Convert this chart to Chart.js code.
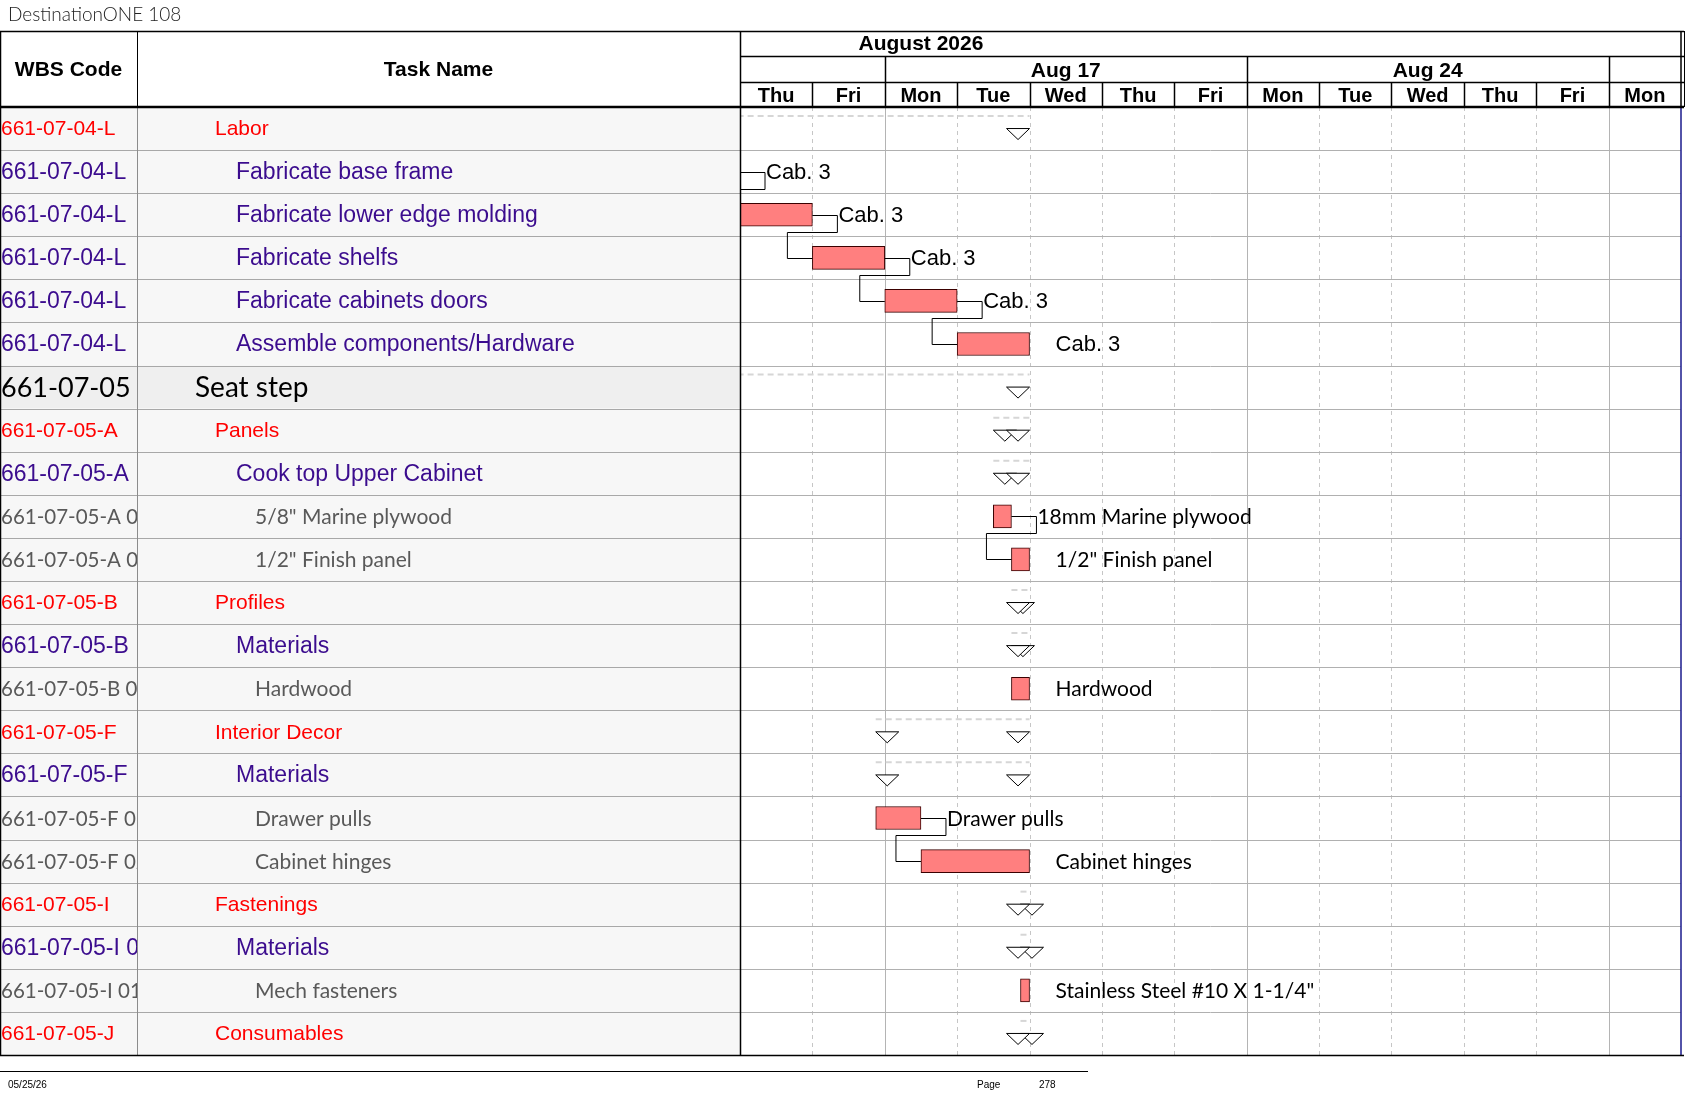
<!DOCTYPE html>
<html>
<head>
<meta charset="utf-8">
<title>DestinationONE 108</title>
<script src="https://cdn.jsdelivr.net/npm/chart.js@4.4.1/dist/chart.umd.min.js"></script>
<style>
  html, body { margin: 0; padding: 0; background: #fff; }
  canvas { display: block; }
</style>
</head>
<body>
<canvas id="gantt" width="1687" height="1097"></canvas>
<script>
// GANTT PAGE 278

const PROJECT_TITLE = "DestinationONE 108";
const PRINT_DATE = "05/25/26";
const PAGE_NO = "278";

const MONTH_LABEL = "August 2026";
// working days shown, starting Thu Aug 13
const DAY_LABELS = ["Thu", "Fri", "Mon", "Tue", "Wed", "Thu", "Fri", "Mon", "Tue", "Wed", "Thu", "Fri", "Mon"];
const WEEK_LABELS = ["", "Aug 17", "Aug 24", ""];

const WBS_CODES = [
  "661-07-04-L", "661-07-04-L", "661-07-04-L", "661-07-04-L", "661-07-04-L", "661-07-04-L",
  "661-07-05",
  "661-07-05-A", "661-07-05-A", "661-07-05-A 01", "661-07-05-A 02",
  "661-07-05-B", "661-07-05-B", "661-07-05-B 01",
  "661-07-05-F", "661-07-05-F", "661-07-05-F 01", "661-07-05-F 02",
  "661-07-05-I", "661-07-05-I 01", "661-07-05-I 01 01",
  "661-07-05-J"
];
const TASK_NAMES = [
  "Labor", "Fabricate base frame", "Fabricate lower edge molding", "Fabricate shelfs",
  "Fabricate cabinets doors", "Assemble components/Hardware",
  "Seat step",
  "Panels", "Cook top Upper Cabinet", "5/8\" Marine plywood", "1/2\" Finish panel",
  "Profiles", "Materials", "Hardwood",
  "Interior Decor", "Materials", "Drawer pulls", "Cabinet hinges",
  "Fastenings", "Materials", "Mech fasteners",
  "Consumables"
];
const OUTLINE_LEVELS = [2, 3, 3, 3, 3, 3, 1, 2, 3, 4, 4, 2, 3, 4, 2, 3, 4, 4, 2, 3, 4, 2];

// task bars, in working days from Thu Aug 13 (null = no bar)
const BAR_START = [null, -1, 0, 1, 2, 3, null, null, null, 3.5, 3.75, null, null, 3.75, null, null, 1.875, 2.5, null, null, 3.875, null];
const BAR_END   = [null, 0, 1, 2, 3, 4, null, null, null, 3.75, 4, null, null, 4, null, null, 2.5, 4, null, null, 4, null];
const BAR_LABELS = [
  "", "Cab. 3", "Cab. 3", "Cab. 3", "Cab. 3", "Cab. 3", "", "", "",
  "18mm Marine plywood", "1/2\" Finish panel", "", "", "Hardwood", "", "",
  "Drawer pulls", "Cabinet hinges", "", "", "Stainless Steel #10 X 1-1/4\"", ""
];

// summary rows (rolled-up span)
const SUMMARY_START = [-1, null, null, null, null, null, -1, 3.5, 3.5, null, null, 3.75, 3.75, null, 1.875, 1.875, null, null, 3.875, 3.875, null, 3.875];
const SUMMARY_END   = [4, null, null, null, null, null, 4, 4, 4, null, null, 4, 4, null, 4, 4, null, null, 4, 4, null, 4];

// finish-to-start links (row indexes)
const LINK_FROM = [1, 2, 3, 4, 9, 16];
const LINK_TO   = [2, 3, 4, 5, 10, 17];

const ARIAL = "'Liberation Sans', Arial, sans-serif";
const CALIBRI = "Lato, 'Open Sans', sans-serif";

const LEVEL_STYLE = {
  1: { font: "28px " + CALIBRI, wbsFont: "27px " + CALIBRI, color: "#000000", indent: 195, bg: "#efefef" },
  2: { font: "21px " + ARIAL, wbsFont: "21px " + ARIAL, color: "#ff0000", indent: 215, bg: "#f7f7f7" },
  3: { font: "23px " + ARIAL, wbsFont: "23px " + ARIAL, color: "#3b0c8e", indent: 236, bg: "#f7f7f7" },
  4: { font: "21px " + CALIBRI, wbsFont: "20.5px " + CALIBRI, color: "#595959", indent: 255, bg: "#f7f7f7" },
};

const WBS_RIGHT = 137;
const TASK_RIGHT = 740;
const HEAD_TOP = 31;
const MONTH_BOTTOM = 56;
const WEEK_BOTTOM = 82;
const HEAD_BOTTOM = 107;
const PAGE_RIGHT = 1684;

function line(ctx, x0, y0, x1, y1, color, width, dash) {
  ctx.save();
  ctx.beginPath();
  ctx.strokeStyle = color;
  ctx.lineWidth = width || 1;
  ctx.setLineDash(dash || []);
  ctx.moveTo(x0, y0);
  ctx.lineTo(x1, y1);
  ctx.stroke();
  ctx.restore();
}

function text(ctx, str, x, y, font, color, align) {
  ctx.font = font;
  ctx.fillStyle = color;
  ctx.textAlign = align || "left";
  ctx.textBaseline = "middle";
  ctx.fillText(str, x, y);
}

function downTriangle(ctx, left, top) {
  ctx.beginPath();
  ctx.moveTo(left, top);
  ctx.lineTo(left + 23, top);
  ctx.lineTo(left + 11.5, top + 11);
  ctx.closePath();
  ctx.fillStyle = "#fff";
  ctx.fill();
  ctx.strokeStyle = "#000";
  ctx.lineWidth = 1;
  ctx.stroke();
}

function rowBand(chart, i) {
  const y = chart.scales.y;
  const half = (y.getPixelForValue(1) - y.getPixelForValue(0)) / 2;
  const c = y.getPixelForValue(i);
  return { top: c - half, bottom: c + half, mid: c };
}

const ganttPlugin = {
  id: "ganttTable",
  beforeDatasetsDraw(chart) {
    const { ctx, chartArea: a, scales: { x } } = chart;
    ctx.save();
    // left table cells
    TASK_NAMES.forEach((_, i) => {
      const b = rowBand(chart, i);
      ctx.fillStyle = LEVEL_STYLE[OUTLINE_LEVELS[i]].bg;
      ctx.fillRect(0, b.top, TASK_RIGHT, b.bottom - b.top);
    });
    // vertical grid: solid at week starts, dashed between days
    for (let d = 1; d < DAY_LABELS.length; d++) {
      const px = Math.round(x.getPixelForValue(d)) + 0.5;
      if (DAY_LABELS[d] === "Mon") line(ctx, px, a.top, px, a.bottom, "#b4b4b4", 1);
      else line(ctx, px, a.top, px, a.bottom, "#c6c6c6", 1, [4, 4]);
    }
    // row lines
    for (let i = 1; i < TASK_NAMES.length; i++) {
      const yy = Math.round(rowBand(chart, i).top) + 0.5;
      line(ctx, 0, yy, TASK_RIGHT, yy, "#a8a8a8", 1);
      line(ctx, TASK_RIGHT, yy, a.right, yy, "#b0b0b0", 1);
    }
    ctx.restore();
  },
  afterDatasetsDraw(chart) {
    const { ctx, chartArea: a, scales: { x, y } } = chart;

    // gantt overlays, clipped to chart area
    ctx.save();
    ctx.beginPath();
    ctx.rect(a.left, a.top, a.right - a.left, a.bottom - a.top);
    ctx.clip();

    // summary roll-ups
    SUMMARY_START.forEach((s, i) => {
      if (s === null) return;
      const b = rowBand(chart, i);
      const x0 = x.getPixelForValue(s);
      const x1 = x.getPixelForValue(SUMMARY_END[i]);
      line(ctx, x0, b.top + 9, x1, b.top + 9, "#d6d6d6", 2, [6, 4]);
      downTriangle(ctx, x0, b.mid);
      downTriangle(ctx, x1 - 23, b.mid);
    });

    // links
    LINK_FROM.forEach((from, k) => {
      const to = LINK_TO[k];
      const e = x.getPixelForValue(BAR_END[from]);
      const s = x.getPixelForValue(BAR_START[to]);
      const yf = Math.round(y.getPixelForValue(from)) + 0.5;
      const yt = Math.round(y.getPixelForValue(to)) + 0.5;
      ctx.beginPath();
      ctx.strokeStyle = "#000";
      ctx.lineWidth = 1;
      ctx.moveTo(e, yf);
      ctx.lineTo(e + 25, yf);
      ctx.lineTo(e + 25, yf + 17);
      ctx.lineTo(s - 25, yf + 17);
      ctx.lineTo(s - 25, yt);
      ctx.lineTo(s, yt);
      ctx.stroke();
    });

    // bar labels
    BAR_LABELS.forEach((lbl, i) => {
      if (!lbl) return;
      const font = OUTLINE_LEVELS[i] === 4 ? "21px " + CALIBRI : "22px " + ARIAL;
      text(ctx, lbl, x.getPixelForValue(BAR_END[i]) + 26, y.getPixelForValue(i) + 1, font, "#000");
    });
    ctx.restore();

    // left table text
    TASK_NAMES.forEach((name, i) => {
      const st = LEVEL_STYLE[OUTLINE_LEVELS[i]];
      const b = rowBand(chart, i);
      ctx.save();
      ctx.beginPath();
      ctx.rect(0, b.top, WBS_RIGHT, b.bottom - b.top);
      ctx.clip();
      text(ctx, WBS_CODES[i], 1, b.mid + 1, st.wbsFont, st.color);
      ctx.restore();
      text(ctx, name, st.indent, b.mid + 1, st.font, st.color);
    });

    // column separators
    line(ctx, WBS_RIGHT + 0.5, HEAD_BOTTOM, WBS_RIGHT + 0.5, a.bottom, "#8c8c8c", 1);
    line(ctx, WBS_RIGHT + 0.5, HEAD_TOP, WBS_RIGHT + 0.5, HEAD_BOTTOM, "#000", 1);
    line(ctx, TASK_RIGHT + 0.5, HEAD_TOP, TASK_RIGHT + 0.5, a.bottom, "#000", 1.5);
    line(ctx, 0.5, HEAD_TOP, 0.5, a.bottom, "#000", 1.5);
    line(ctx, a.right, HEAD_BOTTOM, a.right, a.bottom, "#1a1a8c", 1.5);

    // timescale header
    const headFont = "bold 21px " + ARIAL;
    text(ctx, "WBS Code", WBS_RIGHT / 2, (HEAD_TOP + HEAD_BOTTOM) / 2 + 1, headFont, "#000", "center");
    text(ctx, "Task Name", (WBS_RIGHT + TASK_RIGHT) / 2, (HEAD_TOP + HEAD_BOTTOM) / 2 + 1, headFont, "#000", "center");
    text(ctx, MONTH_LABEL, x.getPixelForValue(2.5), (HEAD_TOP + MONTH_BOTTOM) / 2 + 1, headFont, "#000", "center");

    line(ctx, 0, HEAD_TOP + 0.5, PAGE_RIGHT, HEAD_TOP + 0.5, "#000", 1.5);
    line(ctx, TASK_RIGHT, MONTH_BOTTOM + 0.5, PAGE_RIGHT, MONTH_BOTTOM + 0.5, "#000", 1.5);
    line(ctx, TASK_RIGHT, WEEK_BOTTOM + 0.5, PAGE_RIGHT, WEEK_BOTTOM + 0.5, "#000", 1.5);
    line(ctx, 0, HEAD_BOTTOM, PAGE_RIGHT, HEAD_BOTTOM, "#000", 2.5);

    // week groups start at each Monday
    const weekStarts = [0];
    DAY_LABELS.forEach((d, i) => { if (d === "Mon" && i > 0) weekStarts.push(i); });
    weekStarts.forEach((ws, k) => {
      const we = k + 1 < weekStarts.length ? weekStarts[k + 1] : DAY_LABELS.length;
      const x0 = x.getPixelForValue(ws);
      const x1 = x.getPixelForValue(we);
      if (ws > 0) line(ctx, Math.round(x0) + 0.5, MONTH_BOTTOM, Math.round(x0) + 0.5, WEEK_BOTTOM, "#000", 1.5);
      if (WEEK_LABELS[k]) text(ctx, WEEK_LABELS[k], (x0 + x1) / 2, (MONTH_BOTTOM + WEEK_BOTTOM) / 2 + 2, headFont, "#000", "center");
    });

    DAY_LABELS.forEach((d, i) => {
      const x0 = x.getPixelForValue(i);
      const x1 = x.getPixelForValue(i + 1);
      if (i > 0) line(ctx, Math.round(x0) + 0.5, WEEK_BOTTOM, Math.round(x0) + 0.5, HEAD_BOTTOM, "#000", 1.5);
      text(ctx, d, (x0 + x1) / 2, (WEEK_BOTTOM + HEAD_BOTTOM) / 2 + 2, "bold 20px " + ARIAL, "#000", "center");
    });
    line(ctx, a.right, HEAD_TOP, a.right, HEAD_BOTTOM, "#000", 1.5);
    line(ctx, PAGE_RIGHT + 0.5, HEAD_TOP, PAGE_RIGHT + 0.5, HEAD_BOTTOM, "#000", 1);

    // table bottom
    line(ctx, 0, a.bottom + 0.5, PAGE_RIGHT, a.bottom + 0.5, "#000", 1.5);

    // page title + footer
    text(ctx, PROJECT_TITLE, 8, 15, "300 19px " + CALIBRI, "#222", "left");
    line(ctx, 0, 1071.5, 1088, 1071.5, "#000", 1);
    text(ctx, PRINT_DATE, 8, 1085, "10px " + ARIAL, "#000", "left");
    text(ctx, "Page", 977, 1085, "10px " + ARIAL, "#000", "left");
    text(ctx, PAGE_NO, 1039, 1085, "10px " + ARIAL, "#000", "left");
  }
};

const barData = BAR_START.map((s, i) => (s === null ? null : [s, BAR_END[i]]));

new Chart(document.getElementById("gantt"), {
  type: "bar",
  data: {
    labels: TASK_NAMES,
    datasets: [
      {
        label: "Tasks",
        data: barData,
        backgroundColor: "#ff7f7f",
        borderColor: "#3a0000",
        borderWidth: 1,
        borderSkipped: false,
        barThickness: 23,
        grouped: false,
      },
    ],
  },
  options: {
    indexAxis: "y",
    responsive: false,
    animation: false,
    layout: { padding: { left: TASK_RIGHT, right: 1687 - 1681, top: HEAD_BOTTOM, bottom: 1097 - 1055 } },
    plugins: {
      legend: { display: false },
      tooltip: { enabled: false },
    },
    scales: {
      x: { type: "linear", min: 0, max: DAY_LABELS.length, display: false },
      y: { type: "category", display: false, offset: true },
    },
  },
  plugins: [ganttPlugin],
});
</script>
</body>
</html>
